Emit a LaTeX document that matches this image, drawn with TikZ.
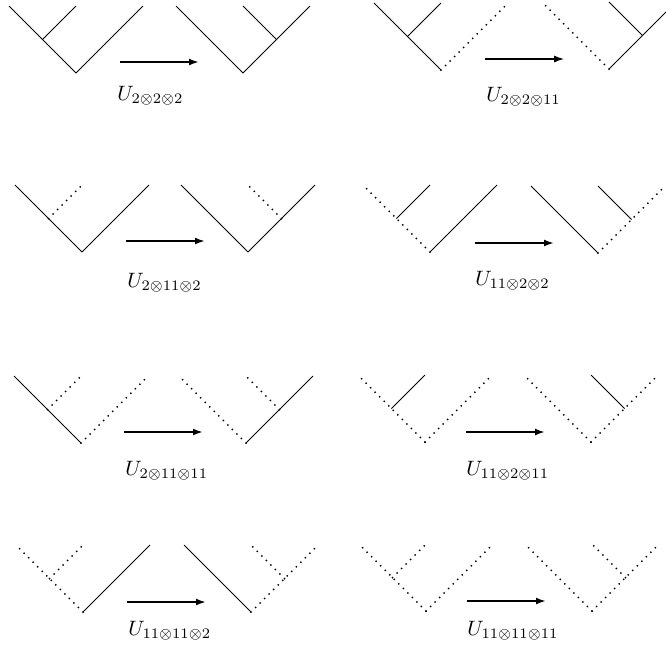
\documentclass[tikz,border=0pt]{standalone}
\usetikzlibrary{arrows.meta}
\tikzset{
  sol/.style={line width=0.4pt},
  dotl/.style={line width=1pt, line cap=round, dash pattern=on 0pt off 3.2pt},
  arr/.style={line width=1pt, -{Latex[length=5pt,width=3.5pt]}},
  thinarr/.style={line width=0.6pt, -{Latex[length=5pt,width=3.5pt]}},
  lab/.style={anchor=base west, inner sep=0pt, scale=1.04},
}
% name, x, y (bottom, px), left leg style, right leg style, branch style
\newcommand\vtreeL[6]{%
  \coordinate (#1b) at (#2,#3);
  \coordinate (#1l) at (#2-67,#3-67);
  \coordinate (#1r) at (#2+67,#3-67);
  \coordinate (#1m) at (#2-33.5,#3-33.5);
  \coordinate (#1t) at (#2,#3-67);
  \draw[#4] (#1b) -- (#1l);
  \draw[#5] (#1b) -- (#1r);
  \draw[#6] (#1m) -- (#1t);
}
\newcommand\vtreeR[6]{%
  \coordinate (#1b) at (#2,#3);
  \coordinate (#1l) at (#2-67,#3-67);
  \coordinate (#1r) at (#2+67,#3-67);
  \coordinate (#1m) at (#2+33.5,#3-33.5);
  \coordinate (#1t) at (#2,#3-67);
  \draw[#4] (#1b) -- (#1l);
  \draw[#5] (#1b) -- (#1r);
  \draw[#6] (#1m) -- (#1t);
}
\begin{document}
\begin{tikzpicture}[x=0.5pt,y=-0.5pt]
\useasboundingbox (0,0) rectangle (666,660);
% Panel 1
\vtreeL{pa}{76}{73}{sol}{sol}{sol}
\vtreeR{pb}{243}{73}{sol}{sol}{sol}
\coordinate (a1s) at (120,62); \coordinate (a1e) at (199,62);
\draw[arr] (a1s) -- (a1e);
\node[lab] (l1) at (117,100) {$U_{2\otimes2\otimes2}$};
% Panel 2
\vtreeL{qa}{441}{70}{sol}{dotl}{sol}
\vtreeR{qb}{609}{69}{dotl}{sol}{sol}
\coordinate (a2s) at (485,59); \coordinate (a2e) at (564,59);
\draw[thinarr] (a2s) -- (a2e);
\node[lab] (l2) at (486,101) {$U_{2\otimes2\otimes11}$};
% Panel 3
\vtreeL{ra}{82}{252}{sol}{sol}{dotl}
\vtreeR{rb}{248}{252}{sol}{sol}{dotl}
\coordinate (a3s) at (126,241); \coordinate (a3e) at (205,241);
\draw[arr] (a3s) -- (a3e);
\node[lab] (l3) at (127,287) {$U_{2\otimes11\otimes2}$};
% Panel 4
\vtreeL{sa}{430}{252}{dotl}{sol}{sol}
\vtreeR{sb}{598}{253}{sol}{dotl}{sol}
\coordinate (a4s) at (475,243); \coordinate (a4e) at (554,243);
\draw[arr] (a4s) -- (a4e);
\node[lab] (l4) at (475,285) {$U_{11\otimes2\otimes2}$};
% Panel 5
\vtreeL{ta}{81}{443}{sol}{dotl}{dotl}
\vtreeR{tb}{246}{443}{dotl}{sol}{dotl}
\coordinate (a5s) at (124,432); \coordinate (a5e) at (203,432);
\draw[arr] (a5s) -- (a5e);
\node[lab] (l5) at (125,475) {$U_{2\otimes11\otimes11}$};
% Panel 6
\vtreeL{ua}{425}{442}{dotl}{dotl}{sol}
\vtreeR{ub}{591}{442}{dotl}{dotl}{sol}
\coordinate (a6s) at (466,432); \coordinate (a6e) at (545,432);
\draw[arr] (a6s) -- (a6e);
\node[lab] (l6) at (466,475) {$U_{11\otimes2\otimes11}$};
% Panel 7
\vtreeL{va}{83}{612}{dotl}{sol}{dotl}
\vtreeR{vb}{251}{612}{sol}{dotl}{dotl}
\coordinate (a7s) at (127,602); \coordinate (a7e) at (206,602);
\draw[arr] (a7s) -- (a7e);
\node[lab] (l7) at (128,635) {$U_{11\otimes11\otimes2}$};
% Panel 8
\vtreeL{wa}{426}{611}{dotl}{dotl}{dotl}
\vtreeR{wb}{592}{611}{dotl}{dotl}{dotl}
\coordinate (a8s) at (467,601); \coordinate (a8e) at (546,601);
\draw[arr] (a8s) -- (a8e);
\node[lab] (l8) at (467,635) {$U_{11\otimes11\otimes11}$};
\end{tikzpicture}
\end{document}
